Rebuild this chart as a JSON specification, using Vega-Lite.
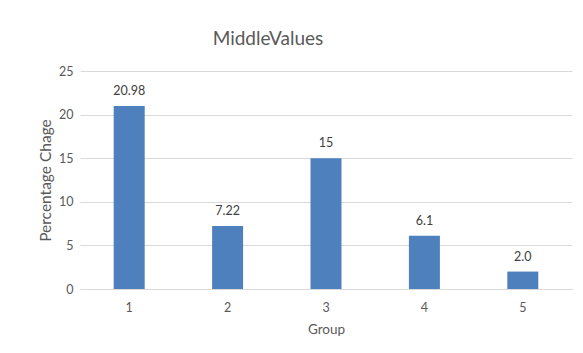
{
  "$schema": "https://vega.github.io/schema/vega-lite/v6.json",
  "autosize": {"type": "none"},
  "width": 492,
  "height": 218,
  "padding": {"left": 80, "top": 71, "right": 11, "bottom": 64},
  "background": "white",
  "title": {
    "text": "MiddleValues",
    "font": "Lato",
    "fontSize": 19,
    "fontWeight": "normal",
    "color": "#595959",
    "anchor": "middle",
    "frame": "group",
    "dx": -58,
    "offset": 16
  },
  "config": {
    "view": {"stroke": null},
    "font": "Lato"
  },
  "data": {
    "values": [
      {"group": "1", "value": 20.98, "label": "20.98"},
      {"group": "2", "value": 7.22, "label": "7.22"},
      {"group": "3", "value": 15, "label": "15"},
      {"group": "4", "value": 6.1, "label": "6.1"},
      {"group": "5", "value": 2.0, "label": "2.0"}
    ]
  },
  "encoding": {
    "x": {
      "field": "group",
      "type": "ordinal",
      "title": "Group",
      "scale": {"paddingInner": 0.685, "paddingOuter": 0.3425},
      "axis": {
        "labelAngle": 0,
        "labelFont": "Lato",
        "labelFontSize": 12.5,
        "labelColor": "#595959",
        "labelPadding": 12,
        "ticks": false,
        "domainColor": "#d9d9d9",
        "titleFont": "Lato",
        "titleFontSize": 13.5,
        "titleFontWeight": "normal",
        "titleColor": "#595959",
        "titlePadding": 9
      }
    },
    "y": {
      "field": "value",
      "type": "quantitative",
      "title": "Percentage Chage",
      "scale": {"domain": [0, 25]},
      "axis": {
        "values": [0, 5, 10, 15, 20, 25],
        "labelFont": "Lato",
        "labelFontSize": 12.5,
        "labelColor": "#595959",
        "labelPadding": 7,
        "ticks": false,
        "domain": false,
        "gridColor": "#d9d9d9",
        "titleFont": "Lato",
        "titleFontSize": 15.5,
        "titleFontWeight": "normal",
        "titleColor": "#595959",
        "titlePadding": 5
      }
    }
  },
  "layer": [
    {"mark": {"type": "bar", "color": "#4e80bd"}},
    {
      "mark": {"type": "text", "baseline": "bottom", "dy": -8, "font": "Lato", "fontSize": 12.5, "color": "#404040"},
      "encoding": {"text": {"field": "label"}}
    }
  ]
}
